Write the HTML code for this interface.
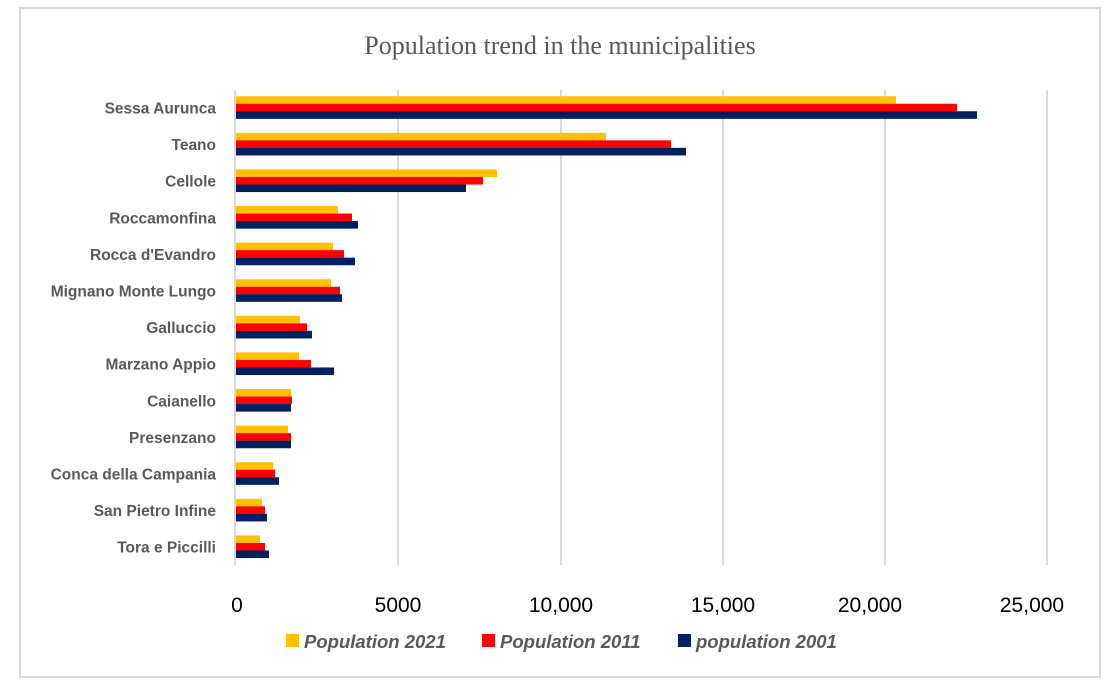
<!DOCTYPE html>
<html><head><meta charset="utf-8"><style>
body{margin:0;background:#fff;width:1113px;height:688px;overflow:hidden}
</style></head><body>
<svg width="1113" height="688" xmlns="http://www.w3.org/2000/svg">
<rect x="20" y="8" width="1080" height="669" fill="#fff" stroke="#d9d9d9" stroke-width="2"/>
<text x="560" y="54" text-anchor="middle" font-family="Liberation Serif, serif" font-size="26" fill="#595959">Population trend in the municipalities</text>
<g stroke="#d9d9d9" stroke-width="2">
<line x1="398" y1="90" x2="398" y2="565"/><line x1="561" y1="90" x2="561" y2="565"/>
<line x1="723" y1="90" x2="723" y2="565"/><line x1="885" y1="90" x2="885" y2="565"/>
<line x1="1047" y1="90" x2="1047" y2="565"/><line x1="235" y1="90" x2="235" y2="565"/>
</g>
<g>
<rect x="236" y="96.25" width="660" height="7.6" fill="#ffc000"/><rect x="236" y="103.75" width="721" height="7.6" fill="#ff0000"/><rect x="236" y="111.25" width="741" height="7.6" fill="#002060"/>
<rect x="236" y="132.85" width="370" height="7.6" fill="#ffc000"/><rect x="236" y="140.35" width="435" height="7.6" fill="#ff0000"/><rect x="236" y="147.85" width="450" height="7.6" fill="#002060"/>
<rect x="236" y="169.45" width="261" height="7.6" fill="#ffc000"/><rect x="236" y="176.95" width="247" height="7.6" fill="#ff0000"/><rect x="236" y="184.45" width="230" height="7.6" fill="#002060"/>
<rect x="236" y="206.05" width="102" height="7.6" fill="#ffc000"/><rect x="236" y="213.55" width="116" height="7.6" fill="#ff0000"/><rect x="236" y="221.05" width="122" height="7.6" fill="#002060"/>
<rect x="236" y="242.65" width="97" height="7.6" fill="#ffc000"/><rect x="236" y="250.15" width="108" height="7.6" fill="#ff0000"/><rect x="236" y="257.65" width="119" height="7.6" fill="#002060"/>
<rect x="236" y="279.25" width="95" height="7.6" fill="#ffc000"/><rect x="236" y="286.75" width="104" height="7.6" fill="#ff0000"/><rect x="236" y="294.25" width="106" height="7.6" fill="#002060"/>
<rect x="236" y="315.85" width="64" height="7.6" fill="#ffc000"/><rect x="236" y="323.35" width="71" height="7.6" fill="#ff0000"/><rect x="236" y="330.85" width="76" height="7.6" fill="#002060"/>
<rect x="236" y="352.45" width="63" height="7.6" fill="#ffc000"/><rect x="236" y="359.95" width="75" height="7.6" fill="#ff0000"/><rect x="236" y="367.45" width="98" height="7.6" fill="#002060"/>
<rect x="236" y="389.05" width="55" height="7.6" fill="#ffc000"/><rect x="236" y="396.55" width="56" height="7.6" fill="#ff0000"/><rect x="236" y="404.05" width="55" height="7.6" fill="#002060"/>
<rect x="236" y="425.65" width="52" height="7.6" fill="#ffc000"/><rect x="236" y="433.15" width="55" height="7.6" fill="#ff0000"/><rect x="236" y="440.65" width="55" height="7.6" fill="#002060"/>
<rect x="236" y="462.25" width="37" height="7.6" fill="#ffc000"/><rect x="236" y="469.75" width="39" height="7.6" fill="#ff0000"/><rect x="236" y="477.25" width="43" height="7.6" fill="#002060"/>
<rect x="236" y="498.85" width="26" height="7.6" fill="#ffc000"/><rect x="236" y="506.35" width="29" height="7.6" fill="#ff0000"/><rect x="236" y="513.85" width="31" height="7.6" fill="#002060"/>
<rect x="236" y="535.45" width="24" height="7.6" fill="#ffc000"/><rect x="236" y="542.95" width="29" height="7.6" fill="#ff0000"/><rect x="236" y="550.45" width="33" height="7.6" fill="#002060"/>
</g>
<g font-family="Liberation Sans, sans-serif" font-weight="bold" font-size="15.5" fill="#595959" text-anchor="end">
<text x="216" y="113.5">Sessa Aurunca</text>
<text x="216" y="150.1">Teano</text>
<text x="216" y="186.7">Cellole</text>
<text x="216" y="223.3">Roccamonfina</text>
<text x="216" y="259.9">Rocca d'Evandro</text>
<text x="216" y="296.5">Mignano Monte Lungo</text>
<text x="216" y="333.1">Galluccio</text>
<text x="216" y="369.7">Marzano Appio</text>
<text x="216" y="406.3">Caianello</text>
<text x="216" y="442.9">Presenzano</text>
<text x="216" y="479.5">Conca della Campania</text>
<text x="216" y="516.1">San Pietro Infine</text>
<text x="216" y="552.7">Tora e Piccilli</text>
</g>
<g font-family="Liberation Sans, sans-serif" font-size="21" fill="#000" text-anchor="middle">
<text x="237" y="612">0</text><text x="398" y="612">5000</text><text x="561" y="612">10,000</text>
<text x="723" y="612">15,000</text><text x="870" y="612">20,000</text><text x="1032" y="612">25,000</text>
</g>
<g font-family="Liberation Sans, sans-serif" font-size="18.5" font-style="italic" font-weight="bold" fill="#595959">
<rect x="286" y="634" width="13" height="13" fill="#ffc000"/><text x="304" y="648">Population 2021</text>
<rect x="482" y="634" width="13" height="13" fill="#ff0000"/><text x="500" y="648">Population 2011</text>
<rect x="678" y="634" width="13" height="13" fill="#002060"/><text x="696" y="648">population 2001</text>
</g>
</svg>
</body></html>
